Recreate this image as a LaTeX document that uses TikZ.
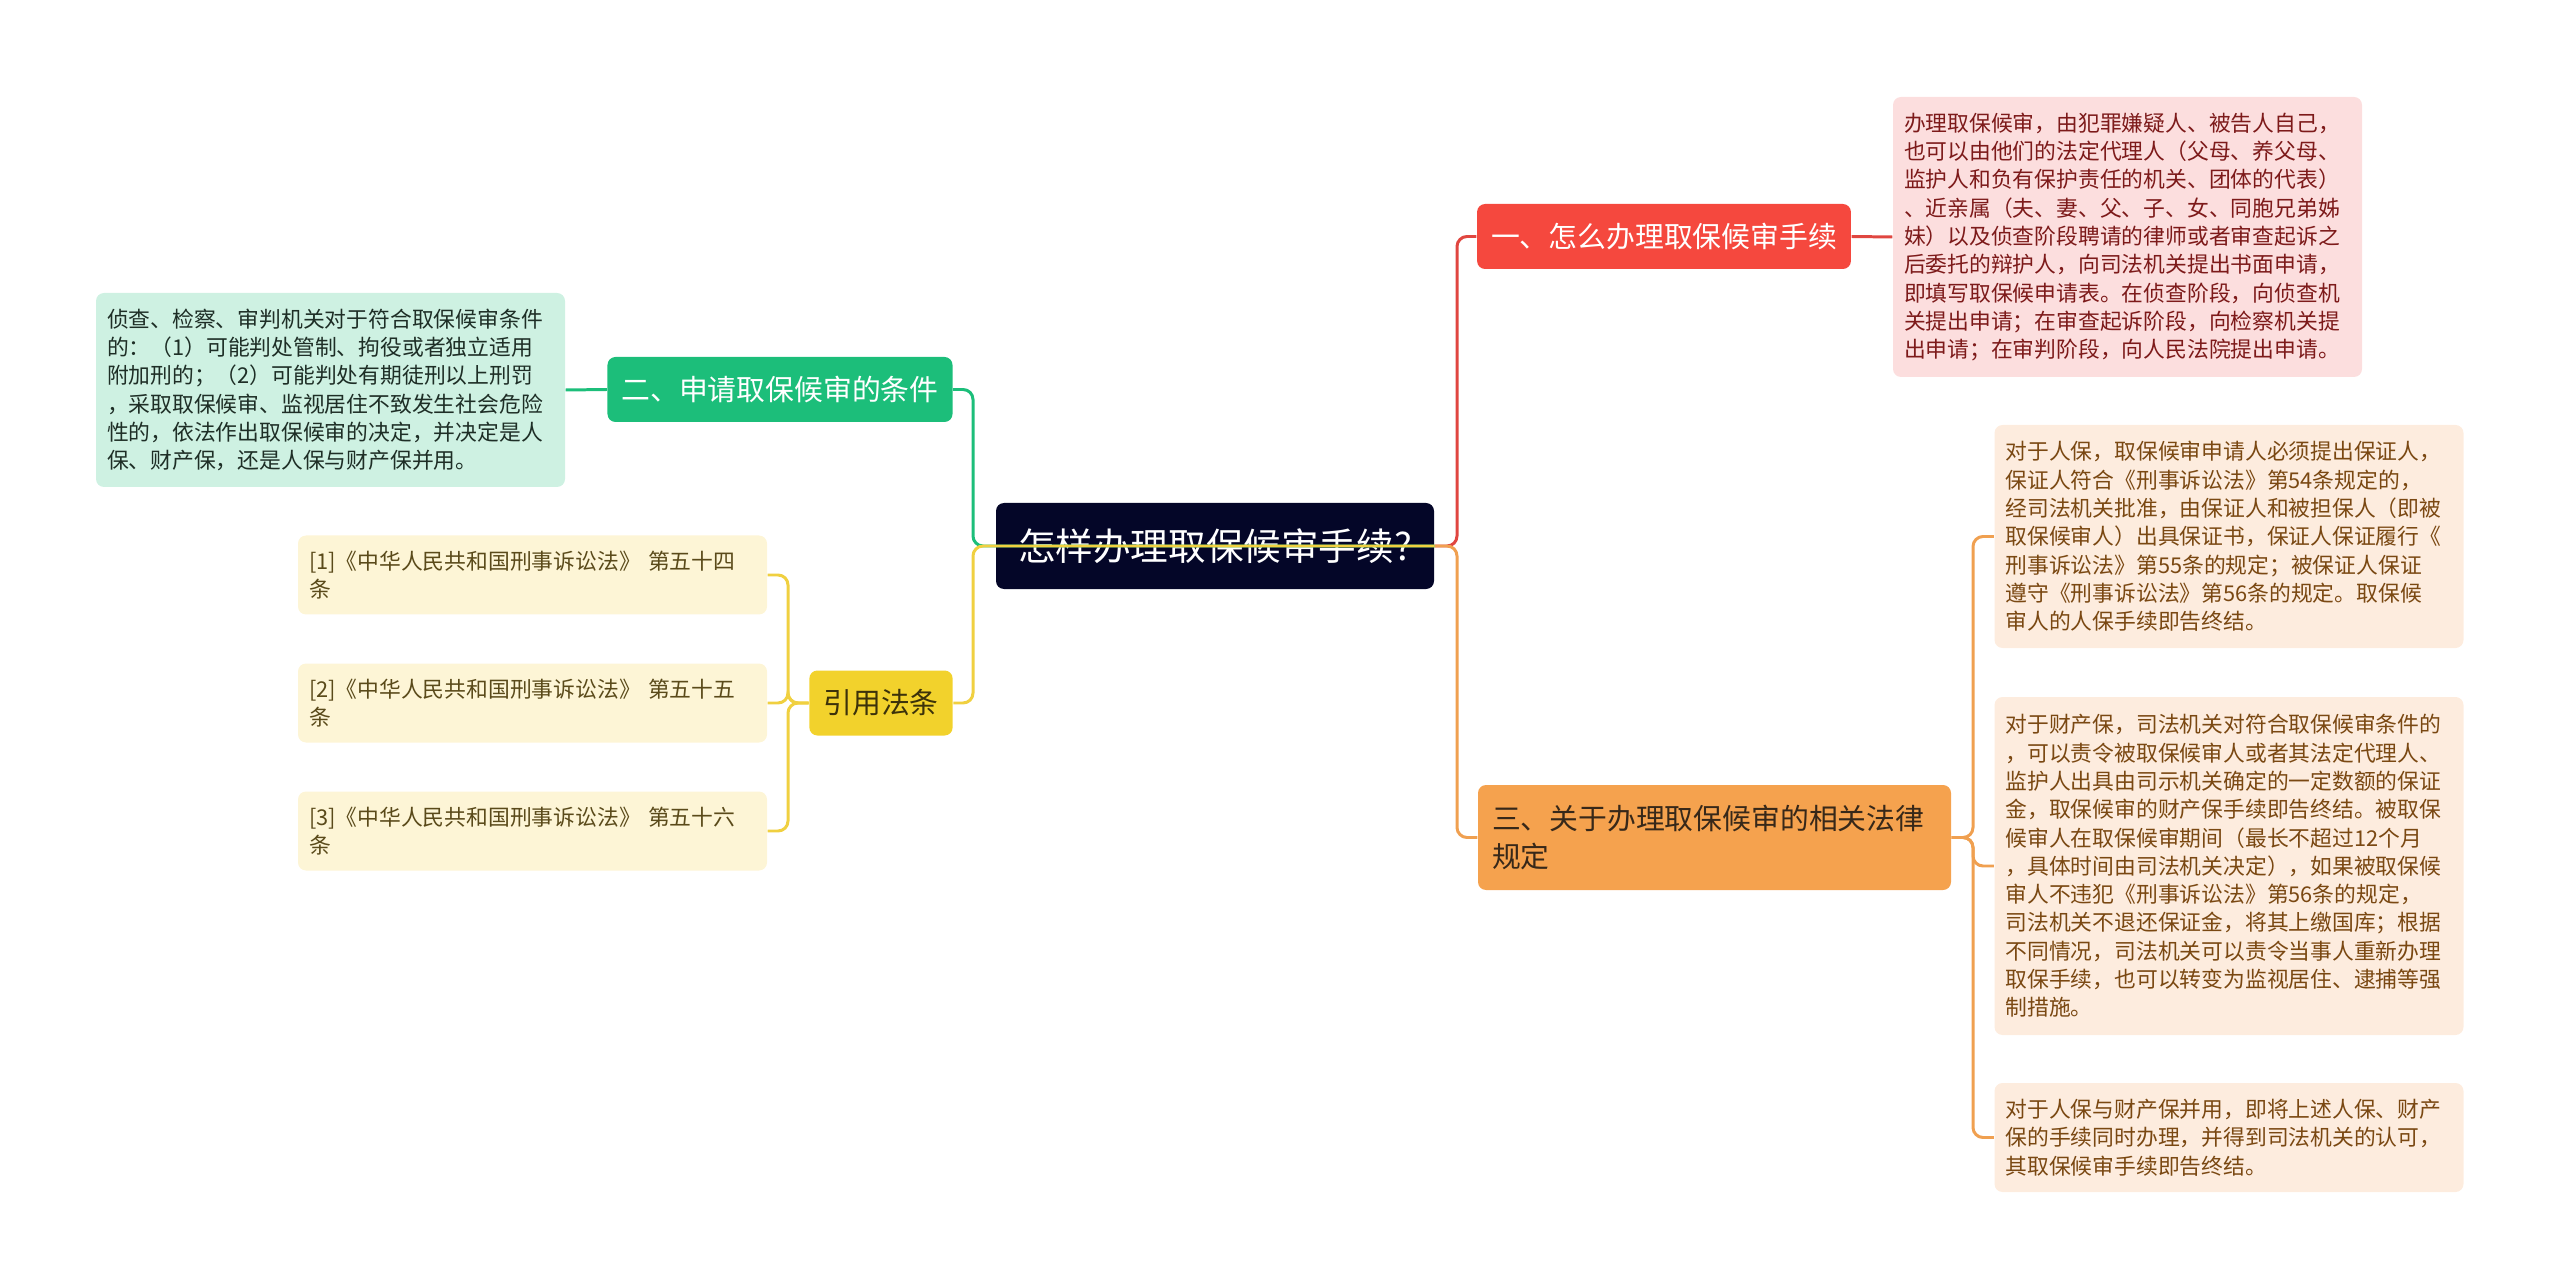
\documentclass[tikz,border=0pt]{standalone}
\usepackage{fontspec}
\newfontfamily\cjk{Noto Sans CJK SC}
\usepackage{xcolor}
\usepackage{tikz}
\usetikzlibrary{positioning,calc}
\definecolor{rootnavy}{RGB}{4,6,40}
\definecolor{topicred}{RGB}{245,72,62}
\definecolor{leafred}{RGB}{252,222,222}
\definecolor{textred}{RGB}{125,26,26}
\definecolor{linered}{RGB}{224,70,64}
\definecolor{topicorange}{RGB}{245,162,78}
\definecolor{leaforange}{RGB}{253,236,222}
\definecolor{textorange}{RGB}{122,72,18}
\definecolor{darkorange}{RGB}{55,40,25}
\definecolor{lineorange}{RGB}{240,160,80}
\definecolor{topicgreen}{RGB}{28,190,122}
\definecolor{leafgreen}{RGB}{206,241,226}
\definecolor{textgreen}{RGB}{30,46,38}
\definecolor{topicyellow}{RGB}{242,210,44}
\definecolor{leafyellow}{RGB}{253,245,214}
\definecolor{textyellow}{RGB}{90,74,26}
\definecolor{darkyellow}{RGB}{60,50,10}
\definecolor{lineyellow}{RGB}{240,208,64}

\begin{document}
\begin{tikzpicture}[y=-1cm,
    rootbox/.style={fill=rootnavy, text=white, rounded corners=0.08cm, minimum width=4.38cm, minimum height=0.86cm, font=\cjk\fontsize{10.7}{13}\selectfont},
    topicbox/.style={rounded corners=0.08cm, minimum height=0.65cm, inner xsep=0.14cm, font=\cjk\fontsize{8.2}{10.8}\selectfont},
    leafbox/.style={rounded corners=0.08cm, inner xsep=0.11cm, align=left, text width=4.47cm, font=\cjk\fontsize{6.2}{8.05}\selectfont},
    link/.style={line width=0.85pt, rounded corners=0.1cm}]
    \useasboundingbox (0,0) rectangle (25.6,12.88);

    % Central question
    \node[rootbox] (root) at (12.15,5.46) {怎样办理取保候审手续?};

    % Main branches
    \node[topicbox, fill=topicred, text=white, minimum width=3.72cm] (howto) at (16.64,2.365) {一、怎么办理取保候审手续};
    \node[topicbox, fill=topicgreen, text=white, minimum width=3.44cm] (terms) at (7.80,3.895) {二、申请取保候审的条件};
    \node[topicbox, fill=topicyellow, text=darkyellow, minimum width=1.42cm] (cites) at (8.81,7.03) {引用法条};
    \node[topicbox, fill=topicorange, text=darkorange, text width=4.45cm, align=left, minimum height=1.05cm] (rules) at (17.145,8.375) {三、关于办理取保候审的相关法律\\规定};

    % Leaves of branch one
    \node[leafbox, fill=leafred, text=textred, minimum height=2.80cm] (howtotext) at (21.275,2.37) {办理取保候审，由犯罪嫌疑人、被告人自己，\\也可以由他们的法定代理人（父母、养父母、\\监护人和负有保护责任的机关、团体的代表）\\、近亲属（夫、妻、父、子、女、同胞兄弟姊\\妹）以及侦查阶段聘请的律师或者审查起诉之\\后委托的辩护人，向司法机关提出书面申请，\\即填写取保候申请表。在侦查阶段，向侦查机\\关提出申请；在审查起诉阶段，向检察机关提\\出申请；在审判阶段，向人民法院提出申请。};

    % Leaf of branch two
    \node[leafbox, fill=leafgreen, text=textgreen, minimum height=1.94cm] (termstext) at (3.305,3.90) {侦查、检察、审判机关对于符合取保候审条件\\的：（1）可能判处管制、拘役或者独立适用\\附加刑的；（2）可能判处有期徒刑以上刑罚\\，采取取保候审、监视居住不致发生社会危险\\性的，依法作出取保候审的决定，并决定是人\\保、财产保，还是人保与财产保并用。};

    % Cited articles
    \node[leafbox, fill=leafyellow, text=textyellow, minimum height=0.79cm] (citeA) at (5.325,5.75) {[1]《中华人民共和国刑事诉讼法》 第五十四\\条};
    \node[leafbox, fill=leafyellow, text=textyellow, minimum height=0.79cm] (citeB) at (5.325,7.03) {[2]《中华人民共和国刑事诉讼法》 第五十五\\条};
    \node[leafbox, fill=leafyellow, text=textyellow, minimum height=0.79cm] (citeC) at (5.325,8.31) {[3]《中华人民共和国刑事诉讼法》 第五十六\\条};

    % Leaves of branch three
    \node[leafbox, fill=leaforange, text=textorange, minimum height=2.23cm] (ruleA) at (22.29,5.365) {对于人保，取保候审申请人必须提出保证人，\\保证人符合《刑事诉讼法》第54条规定的，\\经司法机关批准，由保证人和被担保人（即被\\取保候审人）出具保证书，保证人保证履行《\\刑事诉讼法》第55条的规定；被保证人保证\\遵守《刑事诉讼法》第56条的规定。取保候\\审人的人保手续即告终结。};
    \node[leafbox, fill=leaforange, text=textorange, minimum height=3.38cm] (ruleB) at (22.29,8.66) {对于财产保，司法机关对符合取保候审条件的\\，可以责令被取保候审人或者其法定代理人、\\监护人出具由司示机关确定的一定数额的保证\\金，取保候审的财产保手续即告终结。被取保\\候审人在取保候审期间（最长不超过12个月\\，具体时间由司法机关决定），如果被取保候\\审人不违犯《刑事诉讼法》第56条的规定，\\司法机关不退还保证金，将其上缴国库；根据\\不同情况，司法机关可以责令当事人重新办理\\取保手续，也可以转变为监视居住、逮捕等强\\制措施。};
    \node[leafbox, fill=leaforange, text=textorange, minimum height=1.09cm] (ruleC) at (22.29,11.375) {对于人保与财产保并用，即将上述人保、财产\\保的手续同时办理，并得到司法机关的认可，\\其取保候审手续即告终结。};

    % Junctions
    \coordinate (hubL) at (9.73,5.46);
    \coordinate (hubR) at (14.57,5.46);
    \coordinate (hubC) at (7.88,7.03);
    \coordinate (hubO) at (19.73,8.375);

    % Connectors
    \draw[link, draw=linered] (root.east) -- (hubR) |- (howto.west);
    \draw[link, draw=lineorange] (root.east) -- (hubR) |- (rules.west);
    \draw[link, draw=topicgreen] (root.east) -- (hubL) |- (terms.east);
    \draw[link, draw=lineyellow] (root.east) -- (hubL) |- (cites.east);
    \draw[link, draw=linered] (howto.east) -- (howtotext.west);
    \draw[link, draw=topicgreen] (terms.west) -- (termstext.east);
    \foreach \leaf in {citeA,citeB,citeC}
      \draw[link, draw=lineyellow] (cites.west) -- (hubC) |- (\leaf.east);
    \foreach \leaf in {ruleA,ruleB,ruleC}
      \draw[link, draw=lineorange] (rules.east) -- (hubO) |- (\leaf.west);
\end{tikzpicture}
\end{document}
